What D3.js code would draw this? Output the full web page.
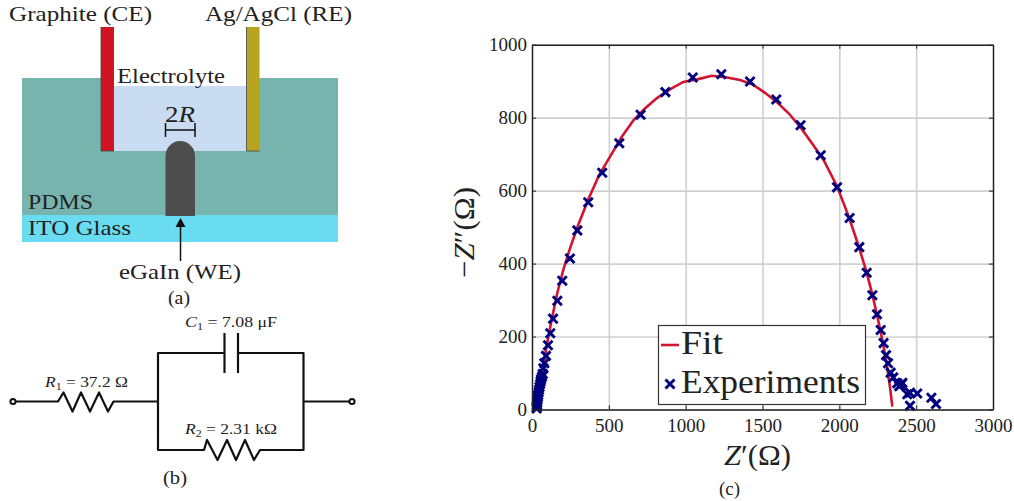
<!DOCTYPE html>
<html><head><meta charset="utf-8">
<script src="https://cdn.jsdelivr.net/npm/d3@7"></script>
<style>html,body{margin:0;padding:0;background:#fff}svg{display:block}text{font-family:"Liberation Serif",serif;fill:#222}</style>
</head><body><svg id="c" width="1014" height="501"></svg>
<script>
const expZ1=[30,31,32,33,34,36,38,40,43,46,49,53,56,59,65,70,74,80,91,104,119,137,165,197,247,295,366,457,568,707,868,1046,1232,1419,1590,1748,1879,1985,2067,2130,2178,2215,2245,2269,2288,2304,2317,2334,2351,2377,2390,2410,2400,2442,2460,2507,2460,2599,2629];
const expZ2=[3,7,12,17,22,28,34,40,47,54,62,70,77,83,90,97,113,127,147,176,209,249,298,353,414,491,568,649,730,808,870,910,919,899,850,779,697,609,525,445,375,313,261,218,182,149,127,101,88,72,64,73,68,42,46,44,10,32,15];
const fitZ1=[36,42,50,62,78,100,130,165,205,250,300,370,440,508,580,660,735,811,900,985,1075,1169,1260,1354,1440,1516,1600,1670,1750,1830,1900,1985,2060,2120,2175,2215,2250,2285,2310,2330,2345];
const fitZ2=[0,22,50,88,130,185,250,320,385,445,505,580,645,693,745,793,825,853,878,898,905,915,911,903,890,868,840,812,772,725,682,612,530,455,380,315,250,180,120,60,8];
const xTicks=[0,500,1000,1500,2000,2500,3000];
const yTicks=[0,200,400,600,800,1000];

const svg=d3.select("#c");
function txt(x,y,s,size,w,anchor){const t=svg.append("text").attr("x",x).attr("y",y).attr("font-size",size).attr("text-anchor",anchor||"start").text(s);
 if(w)t.attr("textLength",w).attr("lengthAdjust","spacingAndGlyphs");return t;}
function rect(x,y,w,h,c){return svg.append("rect").attr("x",x).attr("y",y).attr("width",w).attr("height",h).attr("fill",c);}
function sub(x,y,main,subS,rest,size,w){const t=svg.append("text").attr("x",x).attr("y",y).attr("font-size",size).attr("textLength",w).attr("lengthAdjust","spacingAndGlyphs");
 t.append("tspan").attr("font-style","italic").text(main);
 t.append("tspan").attr("dy",2.5).attr("font-size",size*0.68).text(subS);
 t.append("tspan").attr("dy",-2.5).text(rest);return t;}

/* (a) cell schematic */
rect(22,78,316,137,"#78b4ae");
rect(22,215,316,27,"#6adcf2");
rect(114,78,133,8,"#fff");
rect(114,86,133,65,"#c9dcf2");
rect(101,27,13,124,"#d11421");
rect(246.5,27,13,124,"#b8a41f");
svg.append("path").attr("d","M101 151V27M101 151H114M246.5 151V27M246.5 151H259.5").attr("stroke","#444").attr("stroke-width",.8).attr("fill","none");
svg.append("path").attr("d","M165.5 216V156A14.75 15 0 0 1 195 156V216Z").attr("fill","#4d4d4d");
svg.append("path").attr("d","M165.5 123V137M165.5 130H195M195 123V137").attr("stroke","#111").attr("stroke-width",1.5).attr("fill","none");
svg.append("path").attr("d","M180.5 261V225").attr("stroke","#111").attr("stroke-width",1.5);
svg.append("path").attr("d","M180.5 218L175.5 227H185.5Z").attr("fill","#111");
txt(9,21,"Graphite (CE)",22,143);
txt(205,21,"Ag/AgCl (RE)",22,147);
txt(117,83,"Electrolyte",22,108);
const tr=svg.append("text").attr("x",165).attr("y",122).attr("font-size",24).attr("textLength",30).attr("lengthAdjust","spacingAndGlyphs");
tr.append("tspan").text("2");tr.append("tspan").attr("font-style","italic").text("R");
txt(28,209,"PDMS",22,65);
txt(28,235,"ITO Glass",22,103);
txt(119,279,"eGaIn (WE)",22,122);
txt(168,304,"(a)",18,22);

/* (b) circuit */
const wire=d=>svg.append("path").attr("d",d).attr("fill","none").attr("stroke","#111").attr("stroke-width",2.2).attr("stroke-linejoin","round");
wire("M16 401.5H58L63.5 392.5L72.5 411.5L81 392.5L90 411.5L99 392.5L108 411.5L113.5 401.5H158");
wire("M158 401.5V353H224M238 353H303.5V450H260L254 460L245 440L236 460L227 440L217.5 460L207 440L204 450H158V401.5");
wire("M303.5 401.5H349");
wire("M224.5 333V373M238 333V373");
[13,352].forEach(x=>svg.append("circle").attr("cx",x).attr("cy",401.5).attr("r",2.6).attr("fill","#fff").attr("stroke","#111").attr("stroke-width",2));
sub(185,327,"C","1"," = 7.08 μF",15,92);
sub(45,387,"R","1"," = 37.2 Ω",15,83);
sub(185,434,"R","2"," = 2.31 kΩ",15,92);
txt(163,484,"(b)",18,24);

/* (c) Nyquist plot */
const x=d3.scaleLinear().domain([0,3000]).range([532,993]);
const y=d3.scaleLinear().domain([0,1000]).range([409.5,44.7]);
const gridX=svg.append("g").attr("transform","translate(0,409.5)").call(d3.axisBottom(x).tickValues(xTicks).tickSize(-364.8).tickFormat(""));
const gridY=svg.append("g").attr("transform","translate(532,0)").call(d3.axisLeft(y).tickValues(yTicks).tickSize(-461).tickFormat(""));
[gridX,gridY].forEach(g=>{g.select(".domain").remove();g.selectAll("line").attr("stroke","#d0d0d0").attr("stroke-width",1.6);});
svg.append("path").datum(d3.range(fitZ1.length)).attr("fill","none").attr("stroke","#d11430").attr("stroke-width",2.6)
 .attr("d",d3.line().x(i=>x(fitZ1[i])).y(i=>y(fitZ2[i])));
const times=d3.symbol().type(d3.symbolTimes).size(55);
svg.append("g").selectAll("path").data(d3.range(expZ1.length)).join("path").attr("d",times)
 .attr("transform",i=>`translate(${x(expZ1[i])},${y(expZ2[i])})`).attr("fill","none").attr("stroke","#00007f").attr("stroke-width",2.9);
const axs=(g)=>{g.selectAll("text").attr("font-size",19).attr("fill","#222").style("font-family","'Liberation Serif',serif");g.selectAll("line").attr("stroke","#222");g.select(".domain").attr("stroke","#222").attr("stroke-width",1.4);};
svg.append("g").attr("transform","translate(0,409.5)").call(d3.axisBottom(x).tickValues(xTicks).tickSizeInner(-4).tickSizeOuter(0).tickPadding(9).tickFormat(d3.format("d"))).call(axs);
svg.append("g").attr("transform","translate(532,0)").call(d3.axisLeft(y).tickValues(yTicks).tickSizeInner(-4).tickSizeOuter(0).tickPadding(5).tickFormat(d3.format("d"))).call(axs);
svg.append("g").attr("transform","translate(0,44.7)").call(d3.axisTop(x).tickValues(xTicks).tickSizeInner(-4).tickSizeOuter(0).tickFormat("")).call(axs);
svg.append("g").attr("transform","translate(993,0)").call(d3.axisRight(y).tickValues(yTicks).tickSizeInner(-4).tickSizeOuter(0).tickFormat("")).call(axs);
/* legend */
svg.append("rect").attr("x",658.5).attr("y",325.5).attr("width",207).attr("height",79).attr("fill","#fff").attr("stroke","#333").attr("stroke-width",1.2);
svg.append("line").attr("x1",661).attr("x2",679).attr("y1",345).attr("y2",345).attr("stroke","#d11430").attr("stroke-width",2.6);
svg.append("path").attr("d",times).attr("transform","translate(670,384)").attr("fill","none").attr("stroke","#00007f").attr("stroke-width",2.9);
txt(681,354,"Fit",33,42);
txt(681,393,"Experiments",33,179);
/* axis titles */
const xl=svg.append("text").attr("x",724).attr("y",465).attr("font-size",29).attr("textLength",67).attr("lengthAdjust","spacingAndGlyphs");
xl.append("tspan").attr("font-style","italic").text("Z");xl.append("tspan").text("′(Ω)");
const yl=svg.append("text").attr("transform","translate(474,278) rotate(-90)").attr("font-size",29).attr("textLength",91).attr("lengthAdjust","spacingAndGlyphs");
yl.append("tspan").text("−");yl.append("tspan").attr("font-style","italic").text("Z");yl.append("tspan").text("″(Ω)");
txt(719,495,"(c)",18,21);
</script></body></html>
